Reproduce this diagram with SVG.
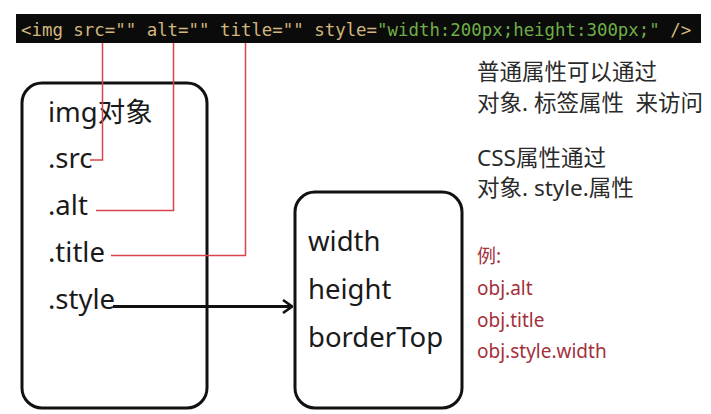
<svg xmlns="http://www.w3.org/2000/svg" width="711" height="414" viewBox="0 0 711 414">
<style>
.code{font-family:"DejaVu Sans Mono","Liberation Mono",monospace;font-size:17.4px}
.tan{fill:#d2b67e}
.grn{fill:#6fae48}
.box{fill:none;stroke:#111;stroke-width:3}
.lbl{font-family:"Noto Sans","Noto Sans CJK SC",sans-serif;font-size:27.5px;fill:#1a1a1a}
.note{font-family:"Noto Sans","Noto Sans CJK SC",sans-serif;font-size:22.5px;fill:#2a2a2a}
.ex{font-family:"Noto Sans","Noto Sans CJK SC",sans-serif;font-size:19px;fill:#a3303c}
.red{fill:none;stroke:#d9434f;stroke-width:1.5}
</style>
<defs>
<marker id="arr" viewBox="0 0 12 16" refX="11" refY="8" markerWidth="12" markerHeight="16" markerUnits="userSpaceOnUse" orient="auto">
<polyline points="2,1.5 11,8 2,14.5" fill="none" stroke="#111" stroke-width="2.6"/>
</marker>
</defs>
<rect width="711" height="414" fill="#fff"/>
<g id="code">
<rect x="16" y="14" width="685" height="29" fill="#0b0b0b"/>
<text class="code" x="21" y="36" xml:space="preserve"><tspan class="tan">&lt;img src=</tspan><tspan class="tan">""</tspan><tspan class="tan"> alt=</tspan><tspan class="tan">""</tspan><tspan class="tan"> title=</tspan><tspan class="tan">""</tspan><tspan class="tan"> style=</tspan><tspan class="grn">"width:200px;height:300px;"</tspan><tspan class="tan"> /&gt;</tspan></text>
</g>
<g id="img-object">
<rect class="box" x="22" y="83" width="185" height="325" rx="20"/>
<text class="lbl" x="48" y="122">img对象</text>
<text class="lbl" x="48" y="168">.src</text>
<text class="lbl" x="48" y="215">.alt</text>
<text class="lbl" x="48" y="262">.title</text>
<text class="lbl" x="48" y="309">.style</text>
</g>
<g id="style-object">
<rect class="box" x="295" y="192" width="167" height="216" rx="20"/>
<text class="lbl" x="308" y="251">width</text>
<text class="lbl" x="308" y="299">height</text>
<text class="lbl" x="308" y="347">borderTop</text>
</g>
<g id="notes">
<text class="note" x="477" y="80">普通属性可以通过</text>
<text class="note" x="477" y="111" xml:space="preserve">对象. 标签属性  来访问</text>
<text class="note" x="477" y="166">CSS属性通过</text>
<text class="note" x="477" y="196">对象. style.属性</text>
<text class="ex" x="477" y="263">例:</text>
<text class="ex" x="477" y="295">obj.alt</text>
<text class="ex" x="477" y="327">obj.title</text>
<text class="ex" x="477" y="358">obj.style.width</text>
</g>
<g id="connectors">
<polyline class="red" points="102.5,43 102.5,160 90,160"/>
<polyline class="red" points="173.5,43 173.5,210.5 96,210.5"/>
<polyline class="red" points="245.5,43 245.5,255.5 111,255.5"/>
<line x1="113" y1="306.5" x2="292" y2="306.5" stroke="#111" stroke-width="3" marker-end="url(#arr)"/>
</g>
</svg>
